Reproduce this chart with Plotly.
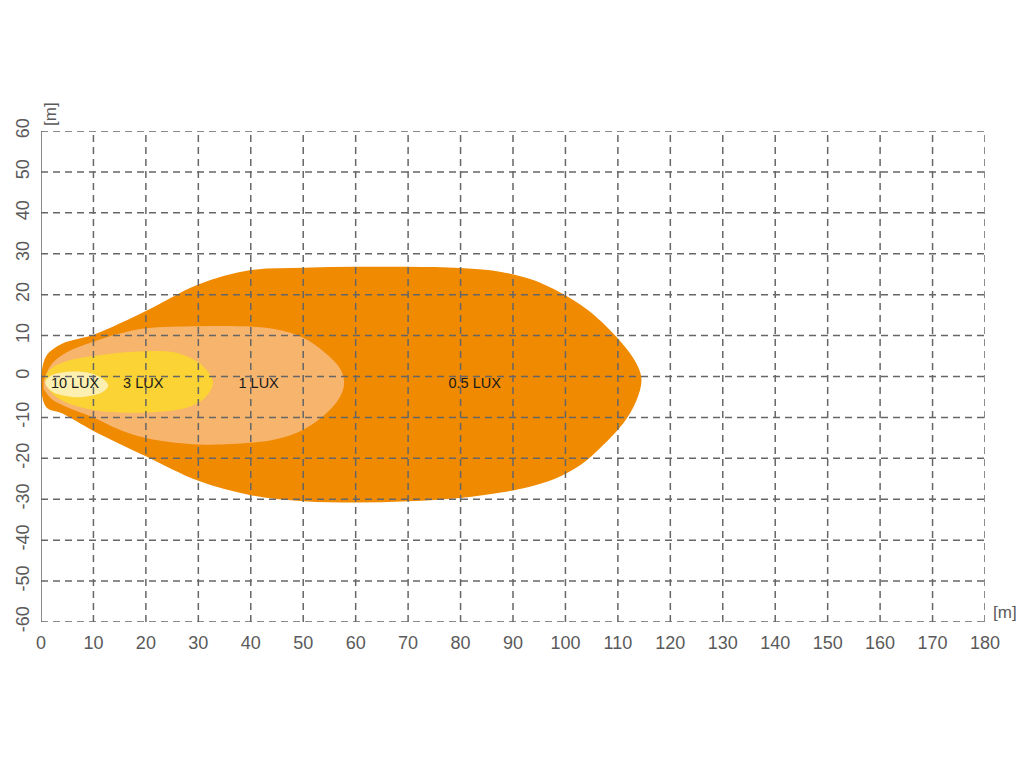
import plotly.graph_objects as go

# ---- data ----
x_ticks = list(range(0, 181, 10))
y_ticks = list(range(-60, 61, 10))
y_tick_labels = [str(v) for v in y_ticks]

lux05_x = [0, 1, 4, 10, 20, 30, 40, 50, 60, 70, 80, 88, 94, 99, 104, 108, 111.5, 113.8, 114.5, 113.5, 111, 107, 103, 98, 93, 88, 80, 70, 60, 50, 40, 30, 20, 10, 4, 1, 0]
lux05_y = [0, 5, 8, 10.2, 16, 22.5, 26, 26.6, 26.8, 26.8, 26.5, 25.5, 23.5, 20.5, 16.5, 12, 7, 2.5, -1, -6, -11.5, -17, -21.5, -25, -27, -28.3, -29.7, -30.5, -30.8, -30.5, -29, -25.5, -19.5, -13.3, -9, -7.5, -3]

lux1_x = [0.5, 2, 5, 10, 15, 20, 30, 40, 45, 50, 54, 57, 57.8, 57, 54, 50, 45, 40, 30, 20, 15, 10, 5, 2, 0.5]
lux1_y = [-1, 3, 6, 8.5, 10.5, 11.8, 12.3, 12.2, 11.5, 9.5, 6, 2, -1.5, -5, -9.5, -13, -15.3, -16.2, -16.6, -15, -13, -10, -7.5, -5.5, -3]

lux3_x = [0.8, 2, 5, 10, 15, 20, 25, 28, 31, 32.8, 31, 28, 25, 20, 15, 10, 5, 2, 0.8]
lux3_y = [-0.3, 2, 3.8, 5, 5.8, 6.2, 6, 4.8, 2.4, -1.5, -5.5, -7.5, -8.3, -8.8, -8.8, -8.2, -6.5, -4, -0.3]

lux10_x = [0.8, 2, 4, 6, 8, 10, 12, 12.8, 12, 10, 8, 6, 4, 2, 0.8]
lux10_y = [-1.5, 0.3, 1.0, 1.2, 1.1, 0.6, -0.8, -2.2, -3.6, -4.6, -5, -5, -4.6, -3.6, -1.5]

label_text = ["10 LUX", "3 LUX", "1 LUX", "0.5 LUX"]
label_x = [6.5, 19.5, 41.5, 82.7]
label_y = [-2, -2, -2, -2]

contours = [
    (lux05_x, lux05_y, "#F08A00"),
    (lux1_x, lux1_y, "#F7B46C"),
    (lux3_x, lux3_y, "#FBD334"),
    (lux10_x, lux10_y, "#FCEFB0"),
]

FONT = "Liberation Sans, Arial"

fig = go.Figure()
for cx, cy, col in contours:
    fig.add_trace(go.Scatter(x=cx, y=cy, mode="lines", fill="toself", fillcolor=col,
                             line=dict(color=col, width=0, shape="spline", smoothing=1.0),
                             hoverinfo="skip", showlegend=False))

# grid lines drawn above the fills
gx, gy = [], []
for xv in x_ticks[1:]:
    gx += [xv, xv, None]
    gy += [y_ticks[0], y_ticks[-1], None]
for yv in y_ticks:
    gx += [x_ticks[0], x_ticks[-1], None]
    gy += [yv, yv, None]
fig.add_trace(go.Scatter(x=gx, y=gy, mode="lines",
                         line=dict(color="#666666", width=1.5, dash="7px,5px"),
                         hoverinfo="skip", showlegend=False))
# solid left axis
fig.add_trace(go.Scatter(x=[x_ticks[0], x_ticks[0]], y=[y_ticks[0], y_ticks[-1]], mode="lines",
                         line=dict(color="#666666", width=1.5),
                         hoverinfo="skip", showlegend=False))

fig.add_trace(go.Scatter(x=label_x, y=label_y, mode="text", text=label_text,
                         textfont=dict(family=FONT, size=14.5, color="#1a1a1a"),
                         hoverinfo="skip", showlegend=False))

fig.update_layout(
    width=1024, height=768,
    margin=dict(l=33, r=47, t=123, b=154),
    paper_bgcolor="white", plot_bgcolor="white",
    xaxis=dict(range=[0, 180], tickvals=x_ticks, showgrid=False, zeroline=False, automargin=False,
               showline=False, ticks="outside", ticklen=4, tickcolor="rgba(0,0,0,0)",
               tickfont=dict(family=FONT, size=18, color="#5a5a5a")),
    yaxis=dict(range=[-60, 60], tickvals=y_ticks, ticktext=y_tick_labels, showgrid=False,
               zeroline=False, automargin=False,
               showline=False, ticks="outside", ticklen=4, tickcolor="rgba(0,0,0,0)", tickangle=-90,
               tickfont=dict(family=FONT, size=18, color="#5a5a5a")),
    annotations=[
        dict(text="[m]", xref="paper", yref="paper", x=0.0, y=1.0, xanchor="center", yanchor="bottom",
             xshift=9, yshift=3, textangle=-90, showarrow=False,
             font=dict(family=FONT, size=17, color="#5a5a5a")),
        dict(text="[m]", xref="paper", yref="paper", x=1.0, y=0.0, xanchor="left", yanchor="bottom",
             xshift=6, yshift=-2, showarrow=False,
             font=dict(family=FONT, size=17, color="#5a5a5a")),
    ],
)

fig.write_html("out.html")
